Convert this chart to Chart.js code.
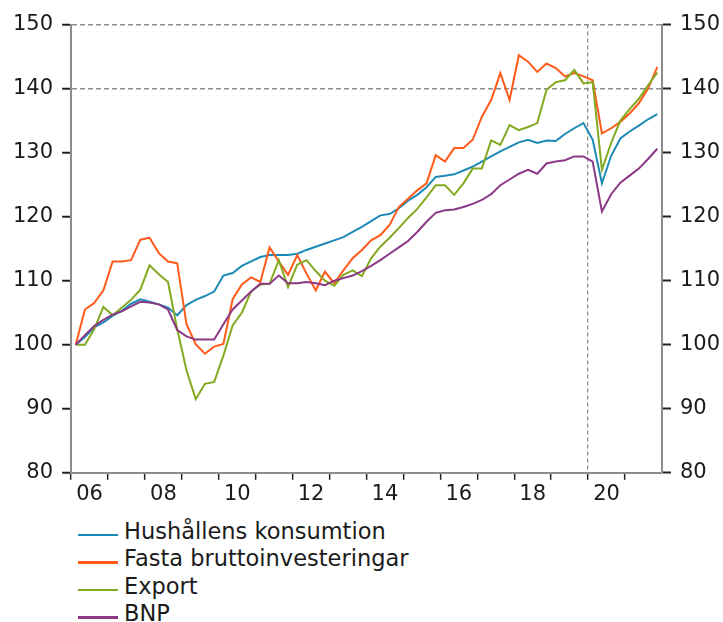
<!DOCTYPE html>
<html><head><meta charset="utf-8">
<script src="https://cdn.jsdelivr.net/npm/chart.js@4"></script>
<style>
html,body{margin:0;padding:0;background:#fff;}
#wrap{position:relative;width:723px;height:622px;overflow:hidden;background:#fff;}
#c{position:absolute;left:0;top:0;width:723px;height:510px;}
#legend{position:absolute;left:78px;top:517px;font-family:'DejaVu Sans';font-size:22.5px;color:#1b1b1b;}
.row{display:flex;align-items:center;height:27.5px;white-space:nowrap;}
.sw{width:40px;height:2.5px;margin-right:6px;margin-top:8px;}
</style></head><body>
<div id="wrap"><canvas id="c" width="723" height="510"></canvas><div id="legend"></div></div>
<script>
// Categories: quarters 2006K1 .. 2021K4
const years = [2006,2007,2008,2009,2010,2011,2012,2013,2014,2015,2016,2017,2018,2019,2020,2021];
const quarters = ['K1','K2','K3','K4'];
const categories = years.flatMap(y => quarters.map(q => y + q));

// X tick labels (shown every second year)
const tickLabels = ['06','08','10','12','14','16','18','20'];
// Y ticks
const yTicks = [80,90,100,110,120,130,140,150];

const seriesNames = ['Hushållens konsumtion','Fasta bruttoinvesteringar','Export','BNP'];
const seriesColors = ['#1d8ab6','#ff5a1a','#82a920','#8b3886'];

const hushall = [100,101.2,102.7,103.5,104.5,105.3,106.4,107.1,106.7,106.3,105.8,104.6,106.2,107,107.6,108.3,110.8,111.2,112.3,113,113.7,
  114,114,114,114.2,114.8,115.3,115.8,116.3,116.8,117.6,118.4,119.3,120.2,120.4,121.3,122.5,123.4,124.6,
  126.2,126.4,126.6,127.2,127.8,128.6,129.4,130.2,130.9,131.6,132,131.5,131.9,131.8,132.9,133.8,134.6,132,125.2,129.5,132.2,133.3,134.2,135.2,136];
const fasta = [100,105.5,106.5,108.5,113,113,113.2,116.4,116.7,114.3,113,112.7,103.2,100.1,98.6,99.7,100.1,107.1,109.4,110.5,109.8,
  115.2,113,110.9,114,111.1,108.5,111.4,109.6,111.6,113.5,114.8,116.3,117.1,118.7,121.5,122.8,124.1,125.2,
  129.6,128.6,130.7,130.7,132,135.6,138.2,142.4,138.2,145.2,144.2,142.6,143.9,143.2,141.9,142.4,141.9,141.3,133,133.8,134.8,136.1,137.7,140,143.4];
const exportSeries = [100,100,102.4,105.9,104.6,105.8,107,108.6,112.4,111,109.8,102.4,96,91.5,93.9,94.2,98.3,103,105,108.3,109.4,
  109.5,113.2,109,112.5,113.2,111.5,110,109.2,110.9,111.6,110.7,113.5,115.3,116.7,118.2,119.8,121.2,123,
  124.9,124.9,123.4,125.2,127.5,127.5,131.9,131.2,134.3,133.5,134,134.6,139.8,141,141.3,142.9,140.8,141,127.3,131.5,135,136.8,138.4,140.5,142.5];
const bnp = [100,101.5,102.9,103.9,104.7,105.2,106,106.7,106.6,106.3,105.5,102.3,101.3,100.8,100.8,100.8,103.2,105.5,106.9,108.3,109.5,
  109.5,110.8,109.6,109.6,109.8,109.6,109.3,110,110.4,110.8,111.5,112.3,113.2,114.2,115.2,116.2,117.6,119.2,
  120.6,121,121.1,121.5,122,122.6,123.5,124.9,125.8,126.7,127.3,126.7,128.3,128.6,128.8,129.4,129.4,128.6,120.8,123.5,125.3,126.4,127.5,129,130.6];

const seriesValues = [hushall, fasta, exportSeries, bnp];
const refLines = [140,150];
const forecastYear = 2020;

const nQ = categories.length;
const boundaryVals = years.map((y,k) => 4*k - 0.5);
const labelVals = tickLabels.map((lab) => {
  const yr = 2000 + parseInt(lab,10);
  return 4*years.indexOf(yr) + 1.5;
});
const forecastVal = 4*years.indexOf(forecastYear) - 0.5;

const font = {family:'DejaVu Sans', size:21};
const txt = '#1b1b1b';

const datasets = seriesValues.map((vals, s) => ({
  label: seriesNames[s],
  data: vals.map((v,i) => ({x:i, y:v})),
  borderColor: seriesColors[s],
  backgroundColor: seriesColors[s],
  borderWidth: 2,
  pointRadius: 0,
  tension: 0,
  order: seriesValues.length - 1 - s
}));

new Chart(document.getElementById('c'), {
  type: 'line',
  data: { datasets },
  options: {
    responsive: false,
    animation: false,
    layout: { padding: { left: 4, right: -6, top: 24.5, bottom: 1 } },
    plugins: { legend: { display: false }, tooltip: { enabled: false } },
    scales: {
      x: {
        type: 'linear',
        min: -0.5, max: nQ - 0.5,
        afterBuildTicks: (axis) => {
          axis.ticks = boundaryVals.concat(labelVals).sort((a,b)=>a-b).map(v => ({value: v}));
        },
        ticks: {
          autoSkip: false, maxRotation: 0, padding: 2, font, color: txt,
          callback: (v) => {
            const j = labelVals.indexOf(v);
            return j >= 0 ? tickLabels[j] : '';
          }
        },
        grid: {
          drawOnChartArea: true,
          color: (c) => (c.tick && c.tick.value === forecastVal) ? '#8c8c8c' : 'rgba(0,0,0,0)',
          lineWidth: 1.3,
          tickColor: (c) => (c.tick && boundaryVals.includes(c.tick.value)) ? '#222' : 'rgba(0,0,0,0)',
          tickLength: 7,
          tickWidth: 1.5
        },
        border: { display: true, color: '#8c8c8c', width: 2, dash: [4,3] }
      },
      y: {
        position: 'left',
        min: 80, max: 150,
        afterBuildTicks: (axis) => { axis.ticks = yTicks.map(v => ({value: v})); },
        ticks: { padding: 9, font, color: txt },
        grid: {
          color: (c) => (c.tick && refLines.includes(c.tick.value)) ? '#8c8c8c' : 'rgba(0,0,0,0)',
          lineWidth: 1.5,
          tickColor: '#222', tickLength: 9, tickWidth: 2
        },
        border: { display: true, color: '#8c8c8c', width: 2, dash: [5,3] }
      },
      y2: {
        position: 'right',
        min: 80, max: 150,
        afterBuildTicks: (axis) => { axis.ticks = yTicks.map(v => ({value: v})); },
        ticks: { padding: 9, font, color: txt },
        grid: { drawOnChartArea: false, tickColor: '#222', tickLength: 9, tickWidth: 2 },
        border: { display: true, color: '#8c8c8c', width: 2 }
      }
    }
  }
});

const lg = document.getElementById('legend');
seriesNames.forEach((name, s) => {
  const row = document.createElement('div'); row.className = 'row';
  const sw = document.createElement('span'); sw.className = 'sw'; sw.style.background = seriesColors[s];
  const t = document.createElement('span'); t.textContent = name;
  row.appendChild(sw); row.appendChild(t); lg.appendChild(row);
});
</script>
</body></html>
